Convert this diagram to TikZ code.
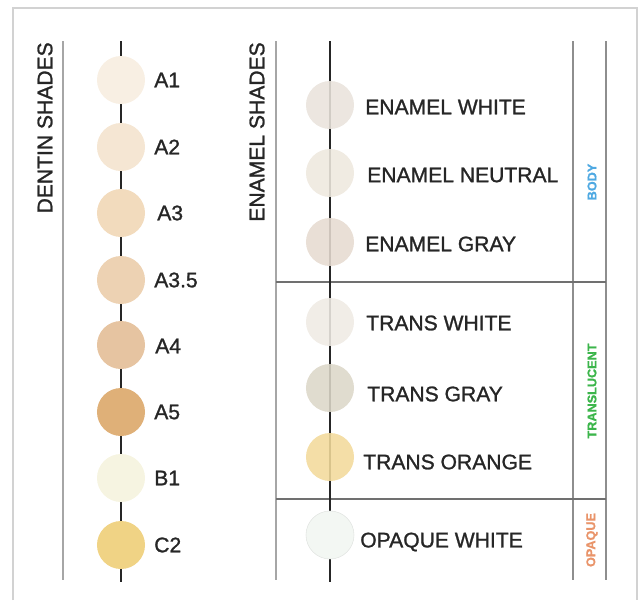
\documentclass[tikz,border=0pt]{standalone}
\usepackage{fontspec}
\setmainfont{Liberation Sans}[FakeBold=1.2]
\usepackage{tikz}
\usetikzlibrary{positioning}

\definecolor{txtgray}{HTML}{262626}
\definecolor{framegray}{HTML}{D2D2D2}
\definecolor{colgray}{HTML}{A6A6A6}
\definecolor{sidegray}{HTML}{8E8E8E}
\definecolor{divgray}{HTML}{707070}
\definecolor{axisblack}{HTML}{262626}
\definecolor{bodyblue}{HTML}{4FA9E2}
\definecolor{transgreen}{HTML}{3CB54B}
\definecolor{opaqueorange}{HTML}{E9946A}
% dentin shades
\definecolor{cA1}{HTML}{F8EFE3}
\definecolor{cA2}{HTML}{F5E6D3}
\definecolor{cA3}{HTML}{F2DBBD}
\definecolor{cA35}{HTML}{EDD2B3}
\definecolor{cA4}{HTML}{E6C4A1}
\definecolor{cA5}{HTML}{DFB078}
\definecolor{cB1}{HTML}{F6F4E1}
\definecolor{cC2}{HTML}{F0D385}
% enamel shades
\definecolor{cEW}{HTML}{E9E3DC}
\definecolor{cEN}{HTML}{EEE8DE}
\definecolor{cEG}{HTML}{E6DBD0}
\definecolor{cTW}{HTML}{EFEAE4}
\definecolor{cTG}{HTML}{DCD7C8}
\definecolor{cTO}{HTML}{F2DA9B}
\definecolor{cOW}{HTML}{F3F7F3}

\tikzstyle{shade} = [circle, minimum size=1.2cm, inner sep=0pt]
\tikzstyle{lbl} = [anchor=west, inner sep=0pt]
\tikzstyle{title} = [rotate=90, anchor=east, inner sep=0pt]
\tikzstyle{side} = [rotate=90, inner sep=0pt, font=\fontsize{9}{10}\selectfont\bfseries]
\tikzstyle{axis} = [draw=axisblack, line width=1.9pt]

\begin{document}
\begin{tikzpicture}[x=0.025cm,y=-0.025cm]
	\tikzstyle{every node}=[font=\fontsize{15}{18}\selectfont, text=txtgray]
	\useasboundingbox (0,0) rectangle (639,600);
	\draw[framegray, line width=1pt] (13,600) -- (13,8) -- (637,8) -- (637,600);
	
	% ------------------- Dentin column ------------------- %
	\node[title] (dtitle) at (45,42) {DENTIN SHADES};
	\draw[colgray, line width=1.4pt] (63,41) -- (63,580);
	
	\coordinate (dtop) at (121,41);
	\coordinate (dbot) at (121,582);
	\draw[axis] (dtop) -- (dbot);
	
	\node[shade, fill=cA1] (a1) at (121,80) {};
	\node[shade, fill=cA2] (a2) at (121,147) {};
	\node[shade, fill=cA3] (a3) at (121,213) {};
	\node[shade, fill=cA35] (a35) at (121,280) {};
	\node[shade, fill=cA4] (a4) at (121,345) {};
	\node[shade, fill=cA5] (a5) at (121,412) {};
	\node[shade, fill=cB1] (b1) at (121,478) {};
	\node[shade, fill=cC2] (c2) at (121,545) {};
	
	\node[lbl] (a1lbl) at (154,80) {A1};
	\node[lbl] (a2lbl) at (154,147) {A2};
	\node[lbl] (a3lbl) at (157,213) {A3};
	\node[lbl] (a35lbl) at (154,280) {A3.5};
	\node[lbl] (a4lbl) at (155,346) {A4};
	\node[lbl] (a5lbl) at (154,412) {A5};
	\node[lbl] (b1lbl) at (154,478) {B1};
	\node[lbl] (c2lbl) at (154,545) {C2};
	
	% ------------------- Enamel column ------------------- %
	\node[title] (etitle) at (257,42) {ENAMEL SHADES};
	\draw[colgray, line width=1.4pt] (276,41) -- (276,580);
	\draw[sidegray, line width=1pt] (573,41) -- (573,580);
	\draw[sidegray, line width=1pt] (606,41) -- (606,580);
	\draw[divgray, line width=1pt] (276,282) -- (606,282);
	\draw[divgray, line width=1pt] (276,499) -- (606,499);
	
	\coordinate (etop) at (330,41);
	\coordinate (ebot) at (330,582);
	\draw[axis] (etop) -- (ebot);
	
	\node[shade, fill=cEW, fill opacity=0.88] (ew) at (330,105) {};
	\node[shade, fill=cEN, fill opacity=0.88] (en) at (330,173) {};
	\node[shade, fill=cEG, fill opacity=0.88] (eg) at (330,242) {};
	\node[shade, fill=cTW, fill opacity=0.88] (tw) at (330,322) {};
	\node[shade, fill=cTG, fill opacity=0.88] (tg) at (330,388) {};
	\node[shade, fill=cTO, fill opacity=0.88] (to) at (330,457) {};
	\node[shade, fill=cOW, draw=cOW!85!gray] (ow) at (330,535) {};
	
	\node[lbl] (ewlbl) at (365,107) {ENAMEL WHITE};
	\node[lbl] (enlbl) at (367,175) {ENAMEL NEUTRAL};
	\node[lbl] (eglbl) at (365,244) {ENAMEL GRAY};
	\node[lbl] (twlbl) at (366,323) {TRANS WHITE};
	\node[lbl] (tglbl) at (367,394) {TRANS GRAY};
	\node[lbl] (tolbl) at (363,462) {TRANS ORANGE};
	\node[lbl] (owlbl) at (360,542) {OPAQUE WHITE};
	
	% ------------------- Side labels ------------------- %
	\node[side, text=bodyblue] (body) at (592,182) {BODY};
	\node[side, text=transgreen] (transl) at (592,391) {TRANSLUCENT};
	\node[side, text=opaqueorange] (opaque) at (592,540) {OPAQUE};
	
\end{tikzpicture}
\end{document}
